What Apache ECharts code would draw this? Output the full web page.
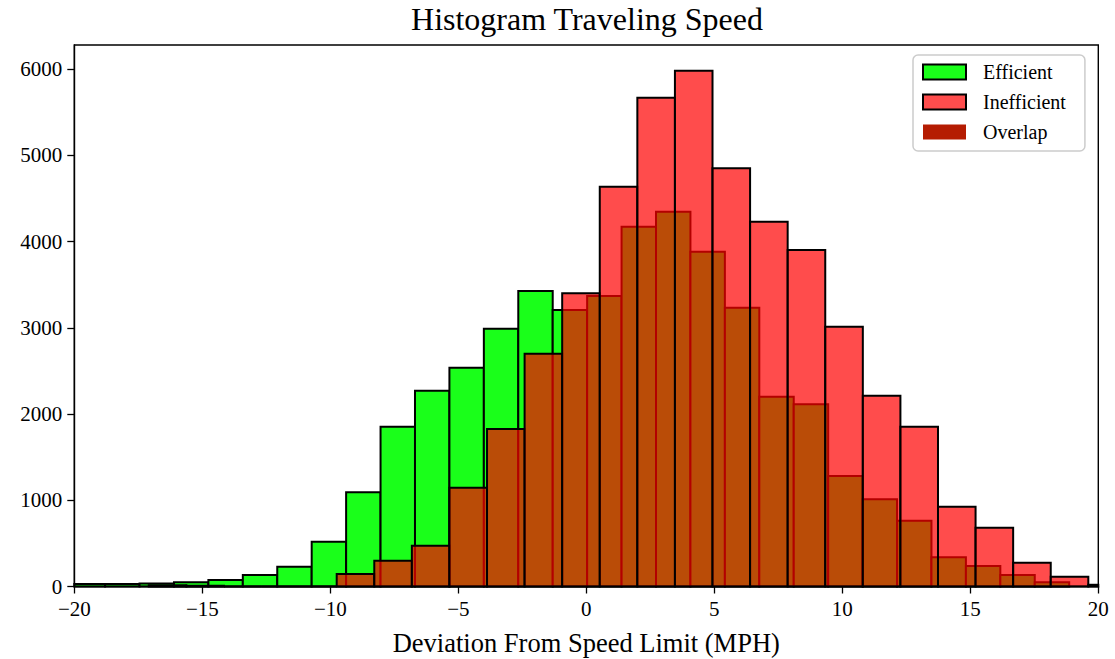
<!DOCTYPE html>
<html>
<head>
<meta charset="utf-8">
<script src="https://cdn.jsdelivr.net/npm/echarts@6/dist/echarts.min.js"></script>
<style>
  html, body { margin: 0; padding: 0; background: #ffffff; }
  #chart { width: 1115px; height: 659px; }
</style>
</head>
<body>
<div id="chart"></div>
<script>
// Histogram bin edges (MPH) and counts for the two groups
const efficientEdges = [-20.142, -18.797, -17.452, -16.107, -14.762, -13.417, -12.072, -10.727,
  -9.382, -8.037, -6.692, -5.347, -4.002, -2.657, -1.312, 0.033, 1.378, 2.723, 4.068, 5.413,
  6.758, 8.103, 9.448, 10.793, 12.138, 13.483, 14.828, 16.173, 17.518, 18.863];
const efficientCounts = [30, 30, 35, 49, 75, 133, 230, 519, 1092, 1853, 2270, 2537, 2989, 3426,
  3206, 3368, 4172, 4346, 3882, 3232, 2201, 2112, 1281, 1011, 763, 339, 238, 133, 49];

const inefficientEdges = [-17.090, -15.622, -14.154, -12.686, -11.218, -9.750, -8.282, -6.814,
  -5.346, -3.878, -2.410, -0.942, 0.526, 1.994, 3.462, 4.930, 6.398, 7.866, 9.334, 10.802,
  12.270, 13.738, 15.206, 16.674, 18.142, 19.610, 21.078];
const inefficientCounts = [15, 10, 0, 0, 0, 145, 299, 473, 1146, 1826, 2699, 3399, 4635, 5667,
  5980, 4849, 4230, 3901, 3012, 2212, 1853, 925, 682, 276, 114, 20];

const xTicks = [-20, -15, -10, -5, 0, 5, 10, 15, 20];
const yTicks = [0, 1000, 2000, 3000, 4000, 5000, 6000];

const seriesNames = ['Efficient', 'Inefficient', 'Overlap'];
const titleText = 'Histogram Traveling Speed';
const xAxisTitle = 'Deviation From Speed Limit (MPH)';

const SERIF = '"Liberation Serif", "DejaVu Serif", serif';
const GREEN = '#1aff1a';
const RED_FILL = 'rgba(255,0,0,0.7)';
const RED_SOLID = '#ff4d4d';
const OVERLAP = '#b51c02';

function toBins(edges, counts) {
  return counts.map((c, i) => [edges[i], edges[i + 1], c]);
}

// One rectangle per bin, clipped to the plotting area
function binRenderer(style) {
  return function (params, api) {
    const lo = api.coord([api.value(0), 0]);
    const hi = api.coord([api.value(1), api.value(2)]);
    const cs = params.coordSys;
    const shape = echarts.graphic.clipRectByRect(
      { x: lo[0], y: hi[1], width: hi[0] - lo[0], height: lo[1] - hi[1] },
      { x: cs.x, y: cs.y, width: cs.width, height: cs.height }
    );
    if (!shape) return null;
    return { type: 'rect', shape: shape, style: style };
  };
}

const yMax = Math.max(...efficientCounts, ...inefficientCounts) * 1.05;
const minus = v => String(v).replace('-', '\u2212');

const chart = echarts.init(document.getElementById('chart'), null, { renderer: 'svg' });
chart.setOption({
  animation: false,
  backgroundColor: '#ffffff',
  title: {
    text: titleText,
    left: 582,
    textAlign: 'center',
    top: -2,
    textStyle: { fontFamily: SERIF, fontWeight: 'normal', fontSize: 32, color: '#000' }
  },
  legend: {
    orient: 'vertical',
    left: 913,
    top: 55,
    icon: 'rect',
    itemWidth: 43,
    itemHeight: 15,
    itemGap: 10,
    padding: [7, 19, 9, 9],
    backgroundColor: 'rgba(255,255,255,0.8)',
    borderColor: '#cccccc',
    borderWidth: 1.5,
    borderRadius: 5,
    selectedMode: false,
    textStyle: { fontFamily: SERIF, fontSize: 20, color: '#000', padding: [0, 0, 0, 12] },
    data: [
      { name: seriesNames[0], itemStyle: { color: GREEN, borderColor: '#000', borderWidth: 2 } },
      { name: seriesNames[1], itemStyle: { color: RED_SOLID, borderColor: '#000', borderWidth: 2 } },
      { name: seriesNames[2], itemStyle: { color: OVERLAP, borderWidth: 0 } }
    ]
  },
  grid: {
    left: 74.3, right: 16.7, top: 45, bottom: 72.5,
    show: true, borderColor: '#000', borderWidth: 1.4,
    outerBoundsMode: 'none'
  },
  xAxis: {
    type: 'value',
    min: -20, max: 20, interval: 5,
    z: 10,
    splitLine: { show: false },
    axisLine: { show: true, onZero: false, lineStyle: { color: '#000', width: 1.4 } },
    axisTick: { show: true, length: 7, customValues: xTicks, lineStyle: { color: '#000', width: 1.3 } },
    axisLabel: { customValues: xTicks, color: '#000', fontFamily: SERIF, fontSize: 21, margin: 12, formatter: minus },
    name: xAxisTitle,
    nameLocation: 'middle',
    nameGap: 43,
    nameTextStyle: { fontFamily: SERIF, fontSize: 26.5, color: '#000' }
  },
  yAxis: {
    type: 'value',
    min: 0, max: yMax,
    z: 10,
    splitLine: { show: false },
    axisLine: { show: true, onZero: false, lineStyle: { color: '#000', width: 1.4 } },
    axisTick: { show: true, length: 7, customValues: yTicks, lineStyle: { color: '#000', width: 1.3 } },
    axisLabel: { customValues: yTicks, color: '#000', fontFamily: SERIF, fontSize: 21, margin: 12, formatter: v => String(v) }
  },
  series: [
    {
      name: seriesNames[0],
      type: 'custom',
      itemStyle: { color: GREEN },
      encode: { x: [0, 1], y: 2 },
      renderItem: binRenderer({ fill: GREEN, stroke: '#000', lineWidth: 2 }),
      data: toBins(efficientEdges, efficientCounts)
    },
    {
      name: seriesNames[1],
      type: 'custom',
      itemStyle: { color: RED_SOLID },
      encode: { x: [0, 1], y: 2 },
      renderItem: binRenderer({ fill: RED_FILL, stroke: '#000', lineWidth: 2 }),
      data: toBins(inefficientEdges, inefficientCounts)
    },
    {
      name: seriesNames[2],
      type: 'custom',
      itemStyle: { color: OVERLAP },
      renderItem: function () { return null; },
      data: []
    }
  ]
});
</script>
</body>
</html>
